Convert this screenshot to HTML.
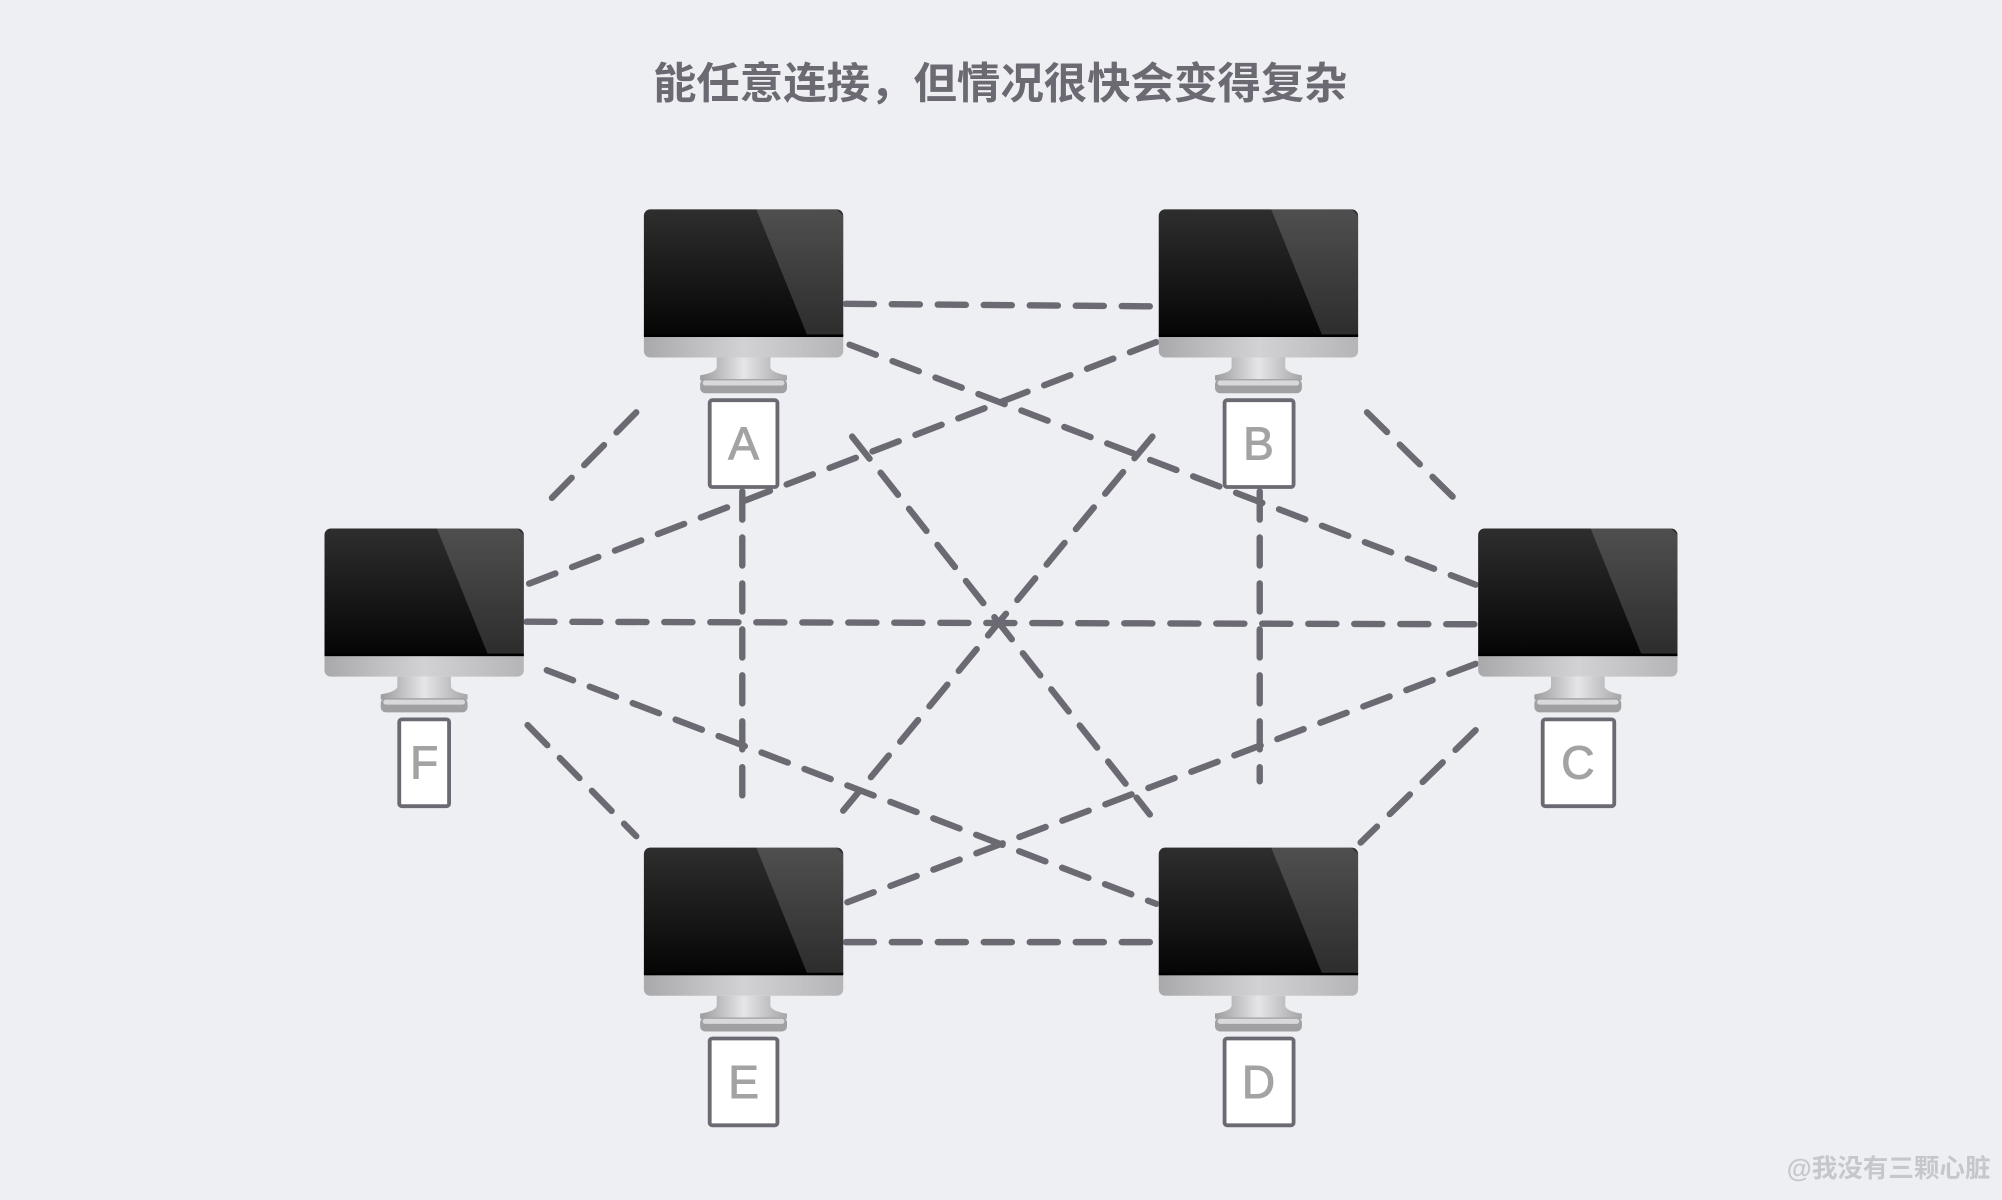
<!DOCTYPE html>
<html><head><meta charset="utf-8"><style>
html,body{margin:0;padding:0;background:#eeeff3;}
svg{display:block;}
</style></head><body>
<svg width="2002" height="1200" viewBox="0 0 1567 940" preserveAspectRatio="none" xmlns="http://www.w3.org/2000/svg">
<defs>
<linearGradient id="scr" x1="0" y1="0" x2="0" y2="1"><stop offset="0" stop-color="#2e2e2e"/><stop offset="1" stop-color="#050505"/></linearGradient>
<linearGradient id="chin" x1="0" y1="0" x2="1" y2="0"><stop offset="0" stop-color="#a9a9ab"/><stop offset="0.5" stop-color="#d2d2d4"/><stop offset="1" stop-color="#b5b5b7"/></linearGradient>
<linearGradient id="neck" x1="0" y1="0" x2="1" y2="0"><stop offset="0" stop-color="#9c9c9e"/><stop offset="0.5" stop-color="#e6e6e8"/><stop offset="1" stop-color="#a6a6a8"/></linearGradient>
<g id="mon">
<rect x="0" y="0" width="156" height="116" rx="5" fill="url(#chin)"/>
<path d="M5 0 H151 A5 5 0 0 1 156 5 V99 H0 V5 A5 5 0 0 1 5 0Z" fill="url(#scr)"/>
<polygon points="88,0 151,0 156,5 156,99 128,99" fill="#ffffff" opacity="0.16"/>
<rect x="0" y="98" width="156" height="2" fill="#000"/>
<path d="M57 116 H99 V124 Q100 128 112 130 V134 H44 V130 Q56 128 57 124Z" fill="url(#neck)"/>
<rect x="44" y="133" width="68" height="11" rx="4" fill="#a0a0a2"/>
<rect x="46" y="134" width="64" height="4" rx="2" fill="#d8d8da"/>
</g>
</defs>
<text x="783" y="77" text-anchor="middle" font-family="Liberation Sans, Noto Sans CJK SC, sans-serif" font-weight="bold" font-size="34" fill="#6b6a72">能任意连接，但情况很快会变得复杂</text>
<g stroke="#6b6a72" stroke-width="5" stroke-dasharray="22 14" stroke-linecap="round" fill="none">
<line x1="662" y1="238" x2="905" y2="240"/>
<line x1="665" y1="270" x2="1155" y2="458"/>
<line x1="667" y1="342" x2="900" y2="638"/>
<line x1="581" y1="385" x2="581" y2="632"/>
<line x1="498" y1="323" x2="430" y2="392"/>
<line x1="1070" y1="323" x2="1140" y2="392"/>
<line x1="986" y1="385" x2="986" y2="612"/>
<line x1="902" y1="342" x2="660" y2="635"/>
<line x1="905" y1="268" x2="412" y2="458"/>
<line x1="1155" y1="572" x2="1065" y2="660"/>
<line x1="1155" y1="520" x2="660" y2="708"/>
<line x1="412" y1="487" x2="1155" y2="489"/>
<line x1="662" y1="738" x2="905" y2="738"/>
<line x1="428" y1="525" x2="905" y2="708"/>
<line x1="413" y1="568" x2="498" y2="655"/>
</g>
<use href="#mon" x="504" y="164"/>
<use href="#mon" x="907" y="164"/>
<use href="#mon" x="1157" y="414"/>
<use href="#mon" x="907" y="664"/>
<use href="#mon" x="504" y="664"/>
<use href="#mon" x="254" y="414"/>
<g fill="#fff" stroke="#6b6a72" stroke-width="3">
<rect x="555.5" y="313.5" width="53" height="68" rx="2"/>
<rect x="958.5" y="313.5" width="54" height="68" rx="2"/>
<rect x="1207.5" y="563.5" width="56" height="68" rx="2"/>
<rect x="958.5" y="813.5" width="54" height="68" rx="2"/>
<rect x="555.5" y="813.5" width="53" height="68" rx="2"/>
<rect x="312.5" y="563.5" width="39" height="68" rx="2"/>
</g>
<g font-family="Liberation Sans, sans-serif" font-size="36" fill="#a3a3a3" text-anchor="middle" stroke="#a3a3a3" stroke-width="0.8">
<text x="582" y="360">A</text>
<text x="985" y="360">B</text>
<text x="1235" y="610">C</text>
<text x="985" y="860">D</text>
<text x="582" y="860">E</text>
<text x="332" y="610">F</text>
</g>
<text x="1558" y="922" text-anchor="end" font-family="Liberation Sans, Noto Sans CJK SC, sans-serif" font-weight="bold" font-size="20" fill="#c6c7cc">@我没有三颗心脏</text>
</svg>
</body></html>
